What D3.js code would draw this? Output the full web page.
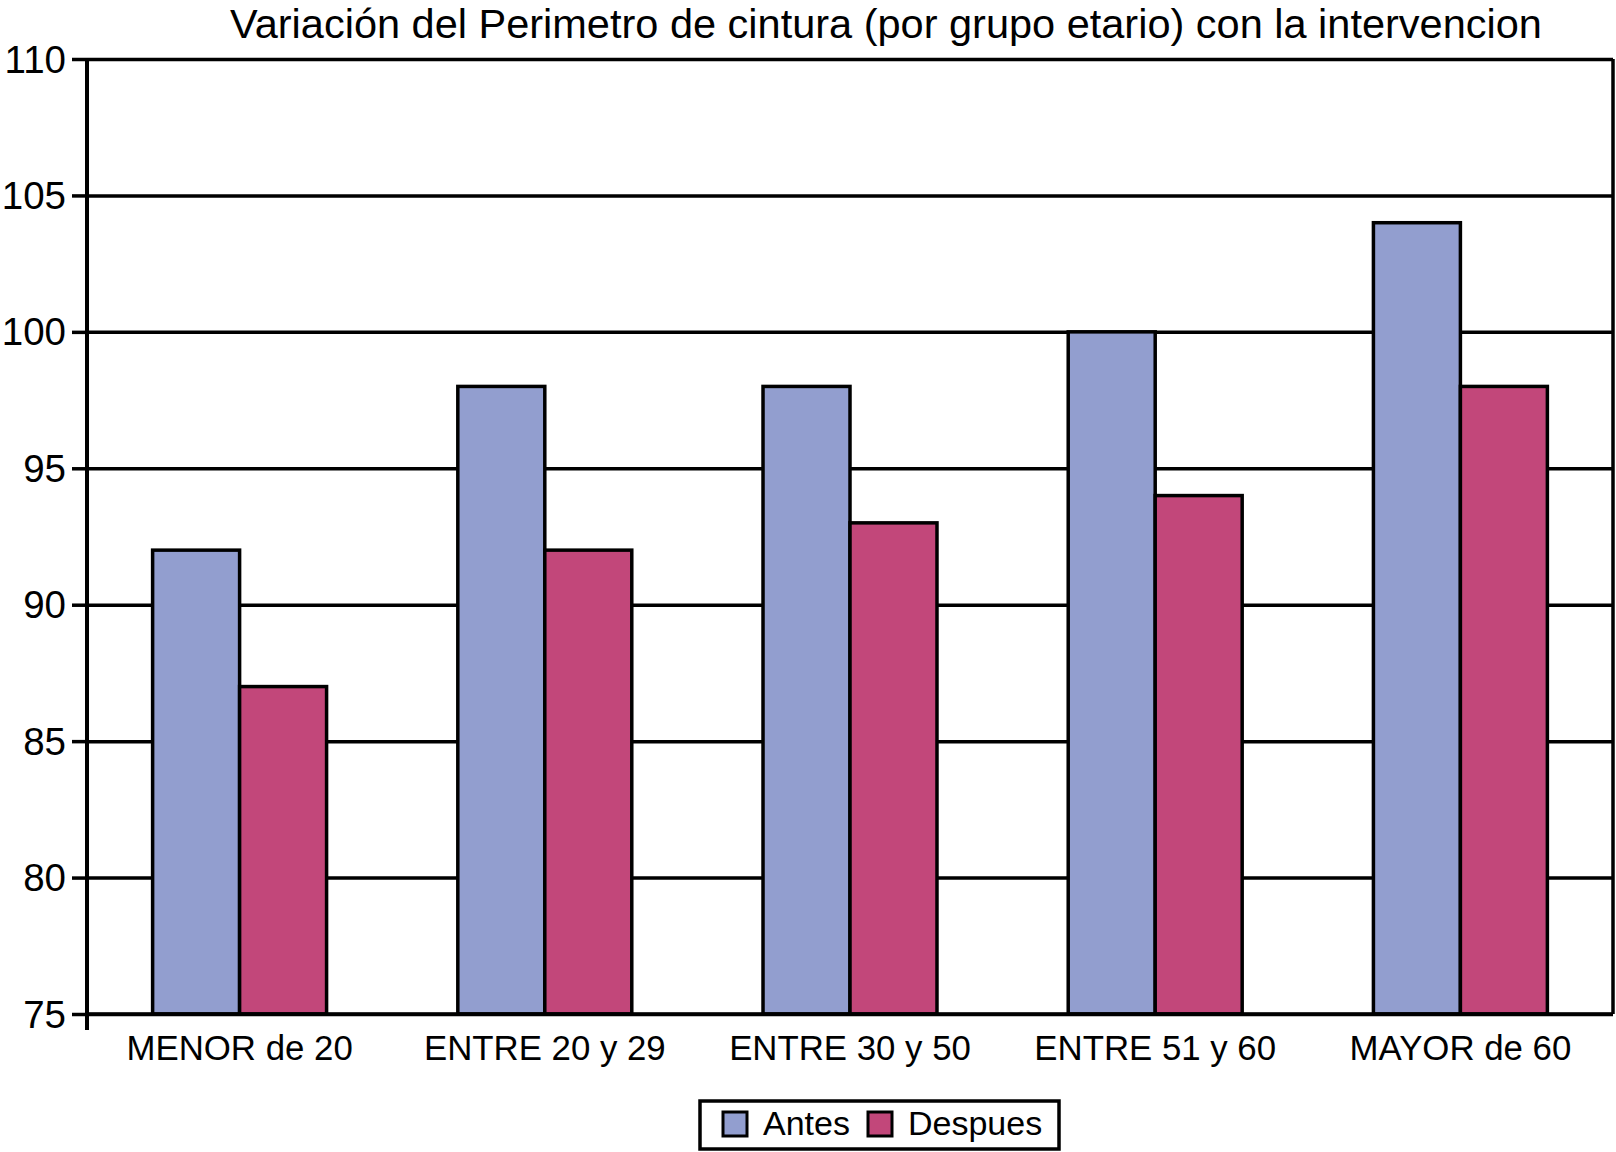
<!DOCTYPE html>
<html>
<head>
<meta charset="utf-8">
<script src="https://cdn.jsdelivr.net/npm/d3@7"></script>
<style>
  html, body { margin: 0; padding: 0; background: #fff; }
  svg { display: block; }
  text { font-family: "Liberation Sans", Arial, Helvetica, sans-serif; fill: #000; }
</style>
</head>
<body>
<svg id="chart" width="1616" height="1152"></svg>
<script>
const title = "Variación del Perimetro de cintura (por grupo etario) con la intervencion";
const categories = ["MENOR de 20", "ENTRE 20 y 29", "ENTRE 30 y 50", "ENTRE 51 y 60", "MAYOR de 60"];
const seriesNames = ["Antes", "Despues"];
const antes = [92, 98, 98, 100, 104];
const despues = [87, 92, 93, 94, 98];
const yTicks = [75, 80, 85, 90, 95, 100, 105, 110];
const colors = ["#929ecf", "#c2477a"];

(function () {
const svg = d3.select("#chart");
const pLeft = 87, pRight = 1613, pTop = 59, pBottom = 1014;
const W = pRight - pLeft;

const x = d3.scaleBand().domain(categories).range([pLeft, pRight]).paddingInner(0.43).paddingOuter(0.215);
const xs = d3.scaleBand().domain(seriesNames).range([0, x.bandwidth()]).padding(0);
const y = d3.scaleLinear().domain([75, 110]).range([pBottom, pTop]);

// Gridlines
const grid = svg.append("g").attr("transform", `translate(${pLeft},0)`)
  .call(d3.axisLeft(y).tickValues(yTicks).tickSize(-W).tickFormat(""));
grid.select(".domain").remove();
grid.selectAll("line").attr("stroke", "#000").attr("stroke-width", 3.5);

// Right border
svg.append("line").attr("x1", pRight).attr("x2", pRight).attr("y1", y(110)).attr("y2", y(75))
  .attr("stroke", "#000").attr("stroke-width", 3.5);

// Bars
const data = categories.map((c, i) => ({cat: c, vals: [
  {s: seriesNames[0], v: antes[i], c: colors[0]},
  {s: seriesNames[1], v: despues[i], c: colors[1]}
]}));
const groups = svg.append("g").selectAll("g").data(data).join("g")
  .attr("transform", d => `translate(${x(d.cat)},0)`);
groups.selectAll("rect").data(d => d.vals).join("rect")
  .attr("x", d => xs(d.s))
  .attr("width", xs.bandwidth())
  .attr("y", d => y(d.v))
  .attr("height", d => y(75) - y(d.v))
  .attr("fill", d => d.c)
  .attr("stroke", "#000")
  .attr("stroke-width", 3.5);

// Y axis
const yAxis = svg.append("g").attr("transform", `translate(${pLeft},0)`)
  .call(d3.axisLeft(y).tickValues(yTicks).tickSize(15).tickSizeOuter(0).tickPadding(6));
yAxis.select(".domain").remove();
yAxis.selectAll("line").attr("stroke", "#000").attr("stroke-width", 3.5);
yAxis.selectAll("text").attr("font-size", 38.5).attr("dy", "0.34em").attr("fill", "#000")
  .attr("font-family", "'Liberation Sans', Arial, sans-serif");
svg.append("line").attr("x1", pLeft).attr("x2", pLeft).attr("y1", y(110)).attr("y2", y(75) + 16)
  .attr("stroke", "#000").attr("stroke-width", 4);
svg.append("line").attr("x1", pLeft).attr("x2", pRight).attr("y1", y(75)).attr("y2", y(75))
  .attr("stroke", "#000").attr("stroke-width", 3.5);

// X axis labels
const xAxis = svg.append("g").attr("transform", `translate(0,${pBottom})`)
  .call(d3.axisBottom(x).tickSize(0).tickPadding(21));
xAxis.select(".domain").remove();
xAxis.selectAll("text").attr("font-size", 34.8).attr("fill", "#000").attr("dy", "0.71em")
  .attr("font-family", "'Liberation Sans', Arial, sans-serif");

// Title
svg.append("text").attr("x", 886).attr("y", 38).attr("text-anchor", "middle")
  .attr("font-size", 41.5).text(title);

// Legend
const lg = svg.append("g");
lg.append("rect").attr("x", 700).attr("y", 1101).attr("width", 359).attr("height", 48)
  .attr("fill", "#fff").attr("stroke", "#000").attr("stroke-width", 3.5);
const legX = [723, 868];
seriesNames.forEach((s, i) => {
  lg.append("rect").attr("x", legX[i]).attr("y", 1112).attr("width", 24).attr("height", 24)
    .attr("fill", colors[i]).attr("stroke", "#000").attr("stroke-width", 3);
  lg.append("text").attr("x", legX[i] + 40).attr("y", 1135).attr("font-size", 34).text(s);
});
})();
</script>
</body>
</html>
